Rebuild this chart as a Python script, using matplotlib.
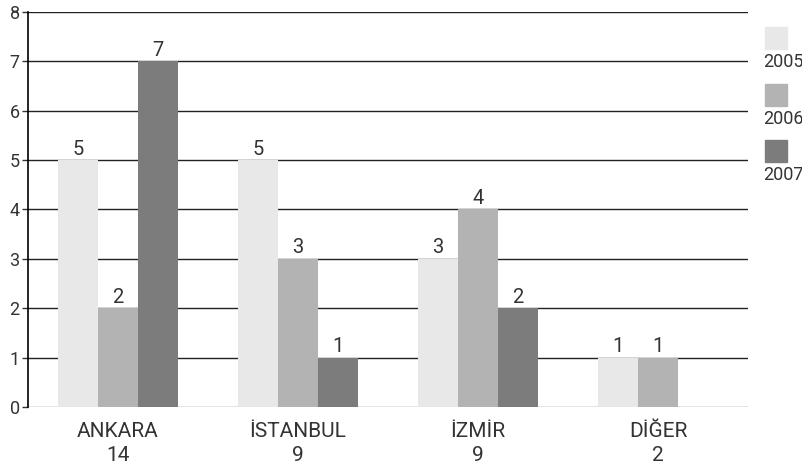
import numpy as np
import matplotlib
matplotlib.use("Agg")
import matplotlib.pyplot as plt

plt.rcParams["font.family"] = ["Roboto", "DejaVu Sans"]

# veriler
sehirler = ["ANKARA", "İSTANBUL", "İZMİR", "DİĞER"]
toplam = [14, 9, 9, 2]
yillar = ["2005", "2006", "2007"]
degerler = {
    "2005": [5, 5, 3, 1],
    "2006": [2, 3, 4, 1],
    "2007": [7, 1, 2, 0],
}
renkler = ["#e8e8e8", "#b3b3b3", "#7c7c7c"]
yazi_rengi = "#333333"


def grafik():
    fig = plt.figure(figsize=(8.02, 4.69), dpi=100)
    ax = fig.add_axes([28 / 802, 62 / 469, 720 / 802, 395 / 469])

    x = np.arange(len(sehirler))
    w = 0.222
    for i, yil in enumerate(yillar):
        vals = degerler[yil]
        for xi, v in zip(x, vals):
            if v <= 0:
                continue
            ax.bar(xi + (i - 1) * w, v, w, color=renkler[i], zorder=3, linewidth=0)
            ax.text(xi + (i - 1) * w, v + 0.03, str(v), ha="center", va="bottom",
                    fontsize=14.5, color=yazi_rengi, zorder=4)

    # yatay çizgiler
    for yv in range(0, 9):
        ax.axhline(yv, color="#222222" if yv else "#777777", linewidth=1.0, zorder=1)

    ax.set_xlim(-0.5, 3.5)
    ax.set_ylim(0, 8)
    ax.set_yticks(range(0, 9))
    ax.set_xticks(x)
    ax.set_xticklabels([f"{s}\n{t}" for s, t in zip(sehirler, toplam)],
                       fontsize=15, color=yazi_rengi, linespacing=1.3)
    ax.tick_params(axis="x", length=0, pad=11)
    ax.tick_params(axis="y", length=4, width=1, color="#333333", pad=2,
                   labelsize=13, labelcolor=yazi_rengi)
    for s in ["top", "right", "bottom"]:
        ax.spines[s].set_visible(False)
    ax.spines["left"].set_color("black")
    ax.spines["left"].set_linewidth(1.2)

    # lejant
    for i, yil in enumerate(yillar):
        top = 27 + i * 56.5
        fig.patches.append(plt.Rectangle((765 / 802, 1 - (top + 22) / 469), 22 / 802, 22 / 469,
                                         transform=fig.transFigure, color=renkler[i]))
        fig.text(763 / 802, 1 - (top + 35) / 469, yil, fontsize=13,
                 color=yazi_rengi, ha="left", va="center")

    fig.savefig("out.png", dpi=100)


grafik()
